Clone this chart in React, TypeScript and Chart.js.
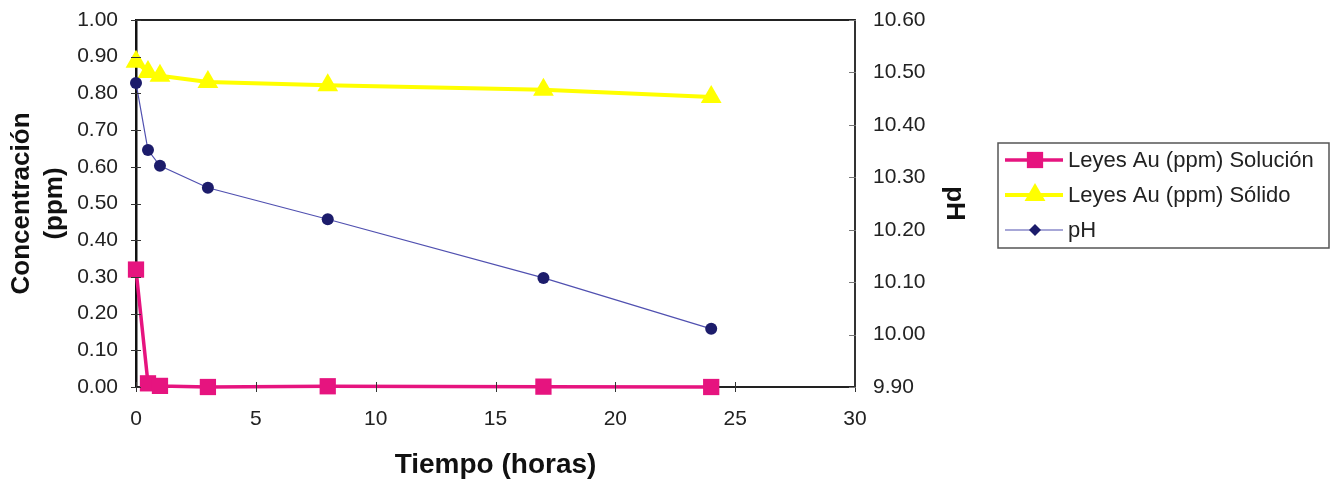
import React, { useEffect, useRef } from "react";
import { Chart, registerables } from "chart.js";

Chart.register(...registerables);

const tiempo = [0, 0.5, 1, 3, 8, 17, 24];
const solucion = [0.32, 0.01, 0.003, 0.0, 0.002, 0.001, 0.0];
const solido = [0.886, 0.858, 0.848, 0.831, 0.822, 0.81, 0.79];
const ph = [10.48, 10.352, 10.322, 10.28, 10.22, 10.108, 10.011];

const seriesNames = ["Leyes Au (ppm) Solución", "Leyes Au (ppm) Sólido", "pH"];
const xTitle = "Tiempo (horas)";
const yTitle = ["Concentración", "(ppm)"];
const y1Title = "pH";

const PINK = "#E6147F";
const YELLOW = "#FFFF00";
const NAVY = "#1C1C6B";
const NAVY_LINE = "#5050B0";
const FONT = "'Liberation Sans', Arial, sans-serif";

const toXY = (xs: number[], ys: number[]) => xs.map((x, i) => ({ x, y: ys[i] }));

const framePlugin = {
  id: "frame",
  beforeDatasetsDraw(chart: any) {
    const { ctx, chartArea } = chart;
    ctx.save();
    ctx.strokeStyle = "#222";
    ctx.lineWidth = 2;
    ctx.beginPath();
    ctx.moveTo(chartArea.left, chartArea.top);
    ctx.lineTo(chartArea.right, chartArea.top);
    ctx.stroke();
    ctx.restore();
  },
  afterDatasetsDraw(chart: any) {
    const { ctx, chartArea } = chart;
    const { left, right, bottom } = chartArea;
    const xs = chart.scales.x;
    const ys = chart.scales.y;
    const y1 = chart.scales.y1;
    ctx.save();
    ctx.lineWidth = 1;
    ctx.strokeStyle = "#333";
    ctx.beginPath();
    xs.ticks.forEach((_t: any, i: number) => {
      const px = Math.round(xs.getPixelForTick(i)) + 0.5;
      ctx.moveTo(px, bottom - 5);
      ctx.lineTo(px, bottom + 5);
    });
    ys.ticks.forEach((_t: any, i: number) => {
      const py = Math.round(ys.getPixelForTick(i)) + 0.5;
      ctx.moveTo(left - 5, py);
      ctx.lineTo(left + 5, py);
    });
    ctx.stroke();
    ctx.strokeStyle = "#777";
    ctx.beginPath();
    y1.ticks.forEach((_t: any, i: number) => {
      const py = Math.round(y1.getPixelForTick(i)) + 0.5;
      ctx.moveTo(right - 6, py);
      ctx.lineTo(right + 1, py);
    });
    ctx.stroke();
    ctx.restore();
  },
};

function drawMarker(ctx: any, style: string, r: number, x: number, y: number, color: string) {
  ctx.save();
  ctx.fillStyle = color;
  ctx.beginPath();
  if (style === "rect") {
    const s = Math.SQRT1_2 * r;
    ctx.rect(x - s, y - s, 2 * s, 2 * s);
  } else if (style === "triangle") {
    ctx.moveTo(x, y - r);
    ctx.lineTo(x + r * 0.87, y + r * 0.5);
    ctx.lineTo(x - r * 0.87, y + r * 0.5);
    ctx.closePath();
  } else {
    ctx.moveTo(x, y - r);
    ctx.lineTo(x + r, y);
    ctx.lineTo(x, y + r);
    ctx.lineTo(x - r, y);
    ctx.closePath();
  }
  ctx.fill();
  ctx.restore();
}

const legendPlugin = {
  id: "boxLegend",
  afterDraw(chart: any) {
    const { ctx } = chart;
    const bx = 998, by = 143, bw = 331, bh = 105;
    ctx.save();
    ctx.strokeStyle = "#555";
    ctx.lineWidth = 1.5;
    ctx.strokeRect(bx, by, bw, bh);
    const rows = [160, 195, 230];
    chart.data.datasets.forEach((ds: any, i: number) => {
      const y = rows[i];
      ctx.strokeStyle = ds.borderColor;
      ctx.lineWidth = ds.borderWidth;
      ctx.beginPath();
      ctx.moveTo(1005, y);
      ctx.lineTo(1063, y);
      ctx.stroke();
      const st = i === 2 ? "diamond" : ds.pointStyle;
      const r = i === 2 ? 6 : ds.pointRadius;
      drawMarker(ctx, st, r, 1035, y, ds.pointBackgroundColor);
      ctx.fillStyle = "#222";
      ctx.font = `22px ${FONT}`;
      ctx.textBaseline = "middle";
      ctx.textAlign = "left";
      ctx.fillText(ds.label, 1068, y + 1);
    });
    ctx.restore();
  },
};

const hiddenTicks = (len: number) => ({
  display: true,
  drawOnChartArea: false,
  drawTicks: true,
  tickLength: len,
  tickColor: "rgba(0,0,0,0)",
});

export default function App() {
  const ref = useRef<HTMLCanvasElement | null>(null);
  useEffect(() => {
    if (!ref.current) return;
    const tickFont = { family: FONT, size: 21 };
    const chart = new Chart(ref.current, {
      type: "line",
      data: {
        datasets: [
          {
            label: seriesNames[0],
            data: toXY(tiempo, solucion),
            yAxisID: "y",
            borderColor: PINK,
            backgroundColor: PINK,
            pointBackgroundColor: PINK,
            pointBorderWidth: 0,
            borderWidth: 3.5,
            pointStyle: "rect",
            pointRadius: 11.5,
            clip: false,
            order: 3,
          },
          {
            label: seriesNames[1],
            data: toXY(tiempo, solido),
            yAxisID: "y",
            borderColor: YELLOW,
            backgroundColor: YELLOW,
            pointBackgroundColor: YELLOW,
            pointBorderWidth: 0,
            borderWidth: 4,
            pointStyle: "triangle",
            pointRadius: 12,
            clip: false,
            order: 2,
          },
          {
            label: seriesNames[2],
            data: toXY(tiempo, ph),
            yAxisID: "y1",
            borderColor: NAVY_LINE,
            backgroundColor: NAVY,
            pointBackgroundColor: NAVY,
            pointBorderWidth: 0,
            borderWidth: 1.2,
            pointStyle: "circle",
            pointRadius: 6,
            clip: false,
            order: 1,
          },
        ],
      },
      options: {
        responsive: false,
        animation: false,
        events: [],
        layout: { padding: { left: 0, right: 364, top: 20, bottom: 0 } },
        plugins: { legend: { display: false }, tooltip: { enabled: false } },
        scales: {
          x: {
            type: "linear",
            min: 0,
            max: 30,
            ticks: { stepSize: 5, font: tickFont, color: "#222", padding: 4, maxRotation: 0 },
            grid: hiddenTicks(16),
            border: { display: true, color: "#222", width: 2 },
            title: {
              display: true,
              text: xTitle,
              font: { family: FONT, size: 28, weight: "bold", lineHeight: 1.2 },
              color: "#111",
              padding: { top: 0, bottom: 0 },
            },
            afterFit(scale: any) {
              scale.height = 95;
            },
          },
          y: {
            type: "linear",
            position: "left",
            min: 0,
            max: 1,
            ticks: {
              stepSize: 0.1,
              font: tickFont,
              color: "#222",
              padding: 2,
              callback: (v: any) => Number(v).toFixed(2),
            },
            grid: hiddenTicks(16),
            border: { display: true, color: "#111", width: 2.5 },
            title: {
              display: true,
              text: yTitle,
              font: { family: FONT, size: 26, weight: "bold", lineHeight: 1.25 },
              color: "#111",
              padding: { top: 6, bottom: 0 },
            },
            afterFit(scale: any) {
              scale.width = 136;
            },
          },
          y1: {
            type: "linear",
            position: "right",
            min: 9.9,
            max: 10.6,
            ticks: {
              stepSize: 0.1,
              font: tickFont,
              color: "#222",
              padding: 2,
              callback: (v: any) => Number(v).toFixed(2),
            },
            grid: hiddenTicks(16),
            border: { display: true, color: "#333", width: 2 },
            title: {
              display: true,
              text: y1Title,
              font: { family: FONT, size: 26, weight: "bold", lineHeight: 1.2 },
              color: "#111",
              padding: { top: 5, bottom: 0 },
            },
            afterFit(scale: any) {
              scale.width = 120;
            },
          },
        },
      },
      plugins: [framePlugin, legendPlugin],
    } as any);
    return () => chart.destroy();
  }, []);

  return (
    <div style={{ position: "fixed", left: 0, top: 0, width: 1339, height: 482, background: "#fff" }}>
      <canvas ref={ref} width={1339} height={482} style={{ width: 1339, height: 482, display: "block" }} />
    </div>
  );
}
